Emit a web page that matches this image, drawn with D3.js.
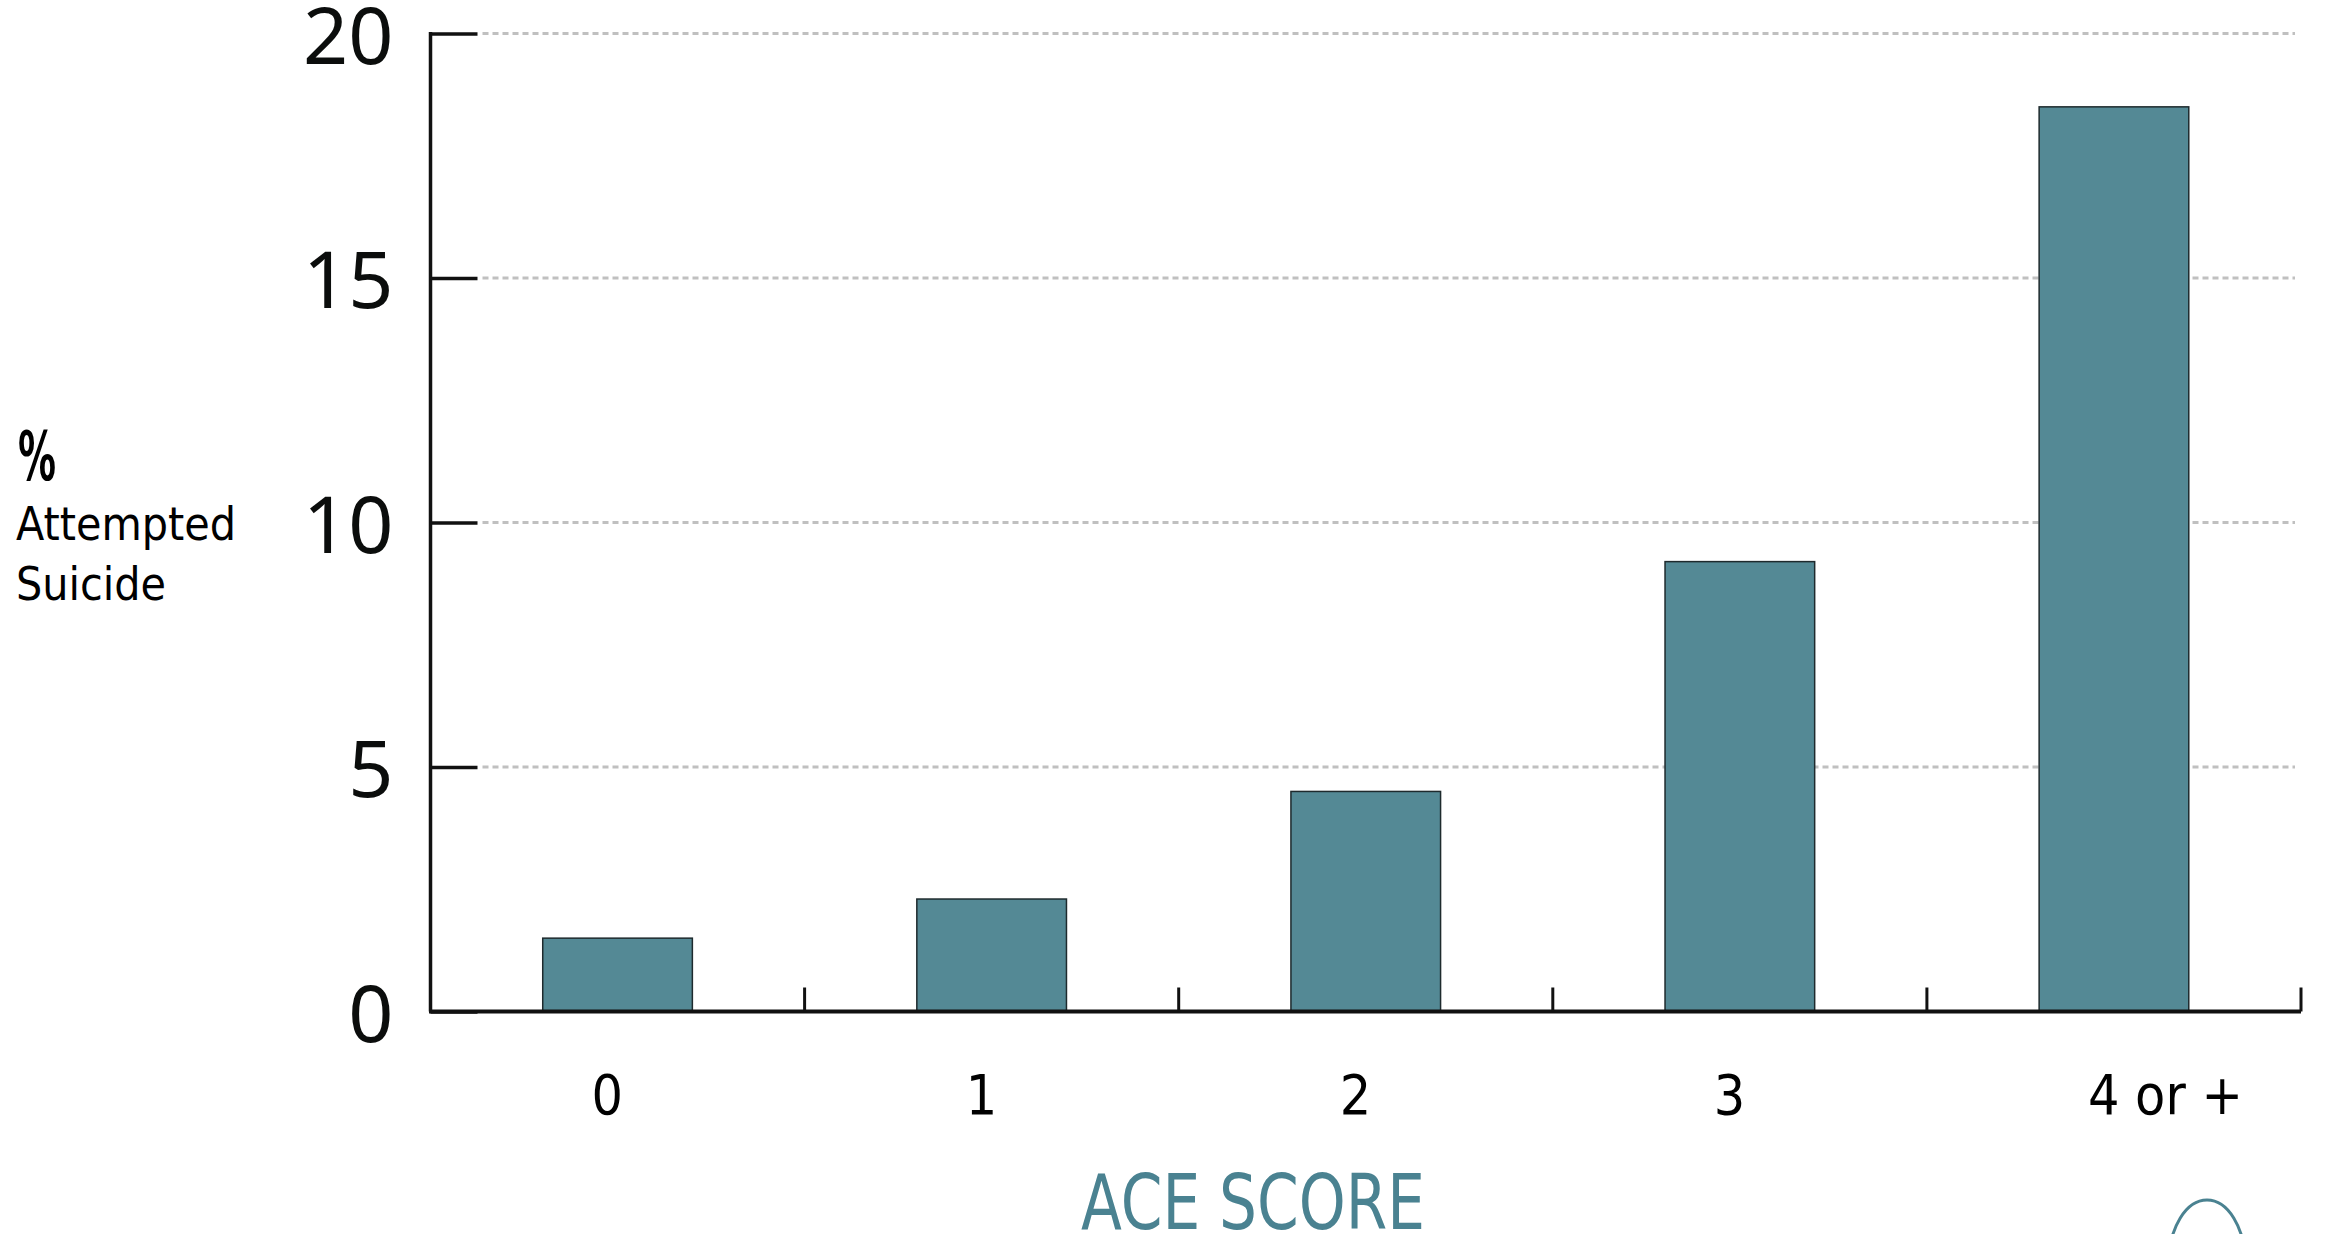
<!DOCTYPE html>
<html>
<head>
<meta charset="utf-8">
<script src="https://d3js.org/d3.v7.min.js"></script>
<style>
  body { margin: 0; background: #fff; }
  svg { display: block; }
</style>
</head>
<body>
<script>
    // data
    let categories = ["0", "1", "2", "3", "4 or +"]
    let attempted = [1.5, 2.3, 4.5, 9.2, 18.5]
    let yTicks = [0, 5, 10, 15, 20]
    let yLabel = ["%", "Attempted", "Suicide"]
    let xTitle = "ACE SCORE"

    let W = 2328, H = 1234
    let plotLeft = 430.5, plotRight = 2301, plotTop = 33.5, plotBottom = 1011.5

    let bar_teal = "rgb(84, 137, 149)",
        title_teal = "rgb(74, 130, 145)",
        grid_gray = "rgb(192, 192, 192)"

    let svg = d3.select("body").append("svg")
                .attr("width", W).attr("height", H)

    let x = d3.scaleBand().domain(categories).range([plotLeft, plotRight])
              .paddingInner(0.6).paddingOuter(0.3)
    let y = d3.scaleLinear().domain([0, 20]).range([plotBottom, plotTop])

    // dashed grid lines (not at 0)
    svg.append("g").selectAll("line").data(yTicks.filter(d => d > 0)).join("line")
        .attr("x1", plotLeft + 52).attr("x2", plotRight - 6)
        .attr("y1", d => y(d)).attr("y2", d => y(d))
        .attr("stroke", grid_gray).attr("stroke-width", 3)
        .attr("stroke-dasharray", "6,4")

    // bars
    svg.append("g").selectAll("rect").data(attempted).join("rect")
        .attr("x", (d, i) => x(categories[i]))
        .attr("y", d => y(d))
        .attr("width", x.bandwidth())
        .attr("height", d => y(0) - y(d))
        .attr("fill", bar_teal)
        .attr("stroke", "#1e2a2d").attr("stroke-width", 1.5)

    // y axis: ticks point inward
    let yAxis = d3.axisRight(y).tickValues(yTicks).tickSize(47).tickFormat("")
    let gy = svg.append("g").attr("transform", `translate(${plotLeft},0)`).call(yAxis)
    gy.select(".domain").remove()
    gy.selectAll(".tick line").attr("stroke", "#111").attr("stroke-width", 3.5)
    svg.append("line").attr("x1", plotLeft).attr("x2", plotLeft).attr("y1", plotTop - 1.5).attr("y2", plotBottom)
        .attr("stroke", "#111").attr("stroke-width", 3.5)

    // y tick labels
    svg.append("g").selectAll("text").data(yTicks).join("text")
        .attr("x", plotLeft - 37).attr("y", d => y(d) + 30)
        .attr("text-anchor", "end")
        .attr("font-family", "'Noto Sans', sans-serif")
        .attr("font-size", 79)
        .attr("fill", "#0b0d0c")
        .text(d => d)

    // x axis line + boundary ticks
    svg.append("line").attr("x1", plotLeft - 1.5).attr("x2", plotRight).attr("y1", plotBottom).attr("y2", plotBottom)
        .attr("stroke", "#111").attr("stroke-width", 4)
    svg.append("g").selectAll("line").data(categories).join("line")
        .attr("x1", d => x(d) + x.bandwidth() / 2 + x.step() / 2)
        .attr("x2", d => x(d) + x.bandwidth() / 2 + x.step() / 2)
        .attr("y1", plotBottom).attr("y2", plotBottom - 24)
        .attr("stroke", "#111").attr("stroke-width", 3)

    // x labels (left aligned just before the bar centre)
    svg.append("g").selectAll("text").data(categories).join("text")
        .attr("x", d => x(d) + x.bandwidth() / 2 - 26)
        .attr("y", 1114)
        .attr("text-anchor", "start")
        .attr("font-family", "'DejaVu Sans Condensed', 'DejaVu Sans', sans-serif")
        .attr("font-size", 55)
        .attr("fill", "#000")
        .text(d => d)

    // x title
    svg.append("text")
        .attr("x", 1081).attr("y", 1229)
        .attr("textLength", 344).attr("lengthAdjust", "spacingAndGlyphs")
        .attr("font-family", "'DejaVu Sans Condensed', 'DejaVu Sans', sans-serif")
        .attr("font-size", 77)
        .attr("fill", title_teal)
        .text(xTitle)

    // y title
    svg.append("text").attr("x", 18).attr("y", 480)
        .attr("textLength", 38).attr("lengthAdjust", "spacingAndGlyphs")
        .attr("font-family", "'DejaVu Sans Condensed', 'DejaVu Sans', sans-serif")
        .attr("font-weight", "bold").attr("font-size", 68)
        .attr("fill", "#000").text(yLabel[0])
    svg.append("g").selectAll("text").data(yLabel.slice(1)).join("text")
        .attr("x", 16).attr("y", (d, i) => 540 + i * 60)
        .attr("font-family", "'DejaVu Sans Condensed', 'DejaVu Sans', sans-serif")
        .attr("font-size", 46)
        .attr("fill", "#000")
        .text(d => d)

    // partial logo arc, bottom right
    svg.append("ellipse").attr("cx", 2207).attr("cy", 1262).attr("rx", 38).attr("ry", 62)
        .attr("fill", "none").attr("stroke", title_teal).attr("stroke-width", 3)
</script>
</body>
</html>
